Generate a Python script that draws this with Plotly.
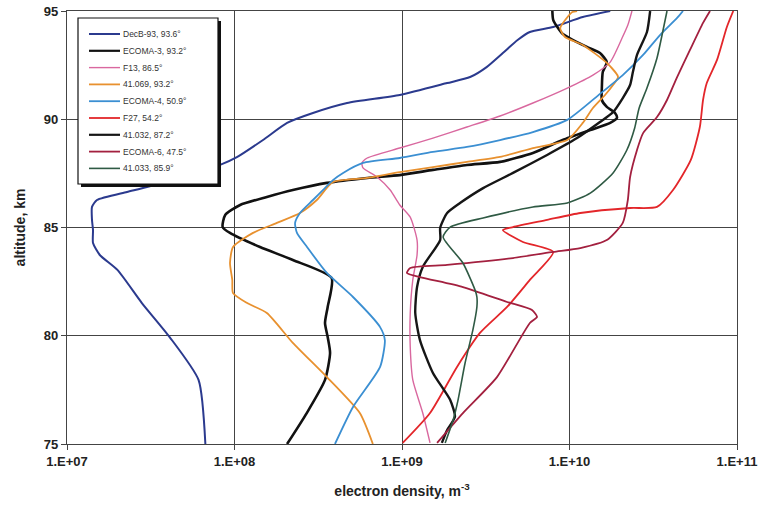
import plotly.graph_objects as go

# ---- data (density m^-3, altitude km) ----
decb_n = [6.7e7, 6.1e7, 4.1e7, 2.8e7, 2.0e7, 1.57e7, 1.43e7, 1.43e7, 1.41e7, 1.41e7, 1.51e7, 2.28e7, 3.0e7,
          8.2e7, 1.04e8, 1.48e8, 2.06e8, 2.94e8, 4.7e8, 9.7e8, 1.86e9, 2.55e9, 3.2e9, 4.0e9, 4.9e9, 5.8e9,
          8.0e9, 1.2e10, 1.75e10]
decb_z = [75.0, 77.96, 79.94, 81.51, 83.04, 83.73, 84.28, 84.88, 85.35, 85.95, 86.27, 86.64, 86.87,
          87.89, 88.26, 89.04, 89.83, 90.29, 90.75, 91.12, 91.67, 91.95, 92.41, 93.06, 93.66, 94.03,
          94.26, 94.72, 95.0]

ecoma3_n = [2.06e8, 2.7e8, 3.47e8, 3.72e8, 3.6e8, 3.47e8, 3.6e8, 3.8e8, 2.23e8, 1.42e8, 9.4e7, 8.5e7, 8.8e7,
            1.08e8, 1.56e8, 2.23e8, 3.56e8, 6.2e8, 9.7e8, 1.53e9, 2.44e9, 3.85e9, 6.05e9, 9.1e9, 1.33e10,
            1.75e10, 1.92e10, 1.87e10, 1.67e10, 1.56e10, 1.56e10, 1.58e10, 1.67e10, 1.52e10, 1.27e10, 1.0e10,
            9.0e9, 8.0e9, 7.9e9]
ecoma3_z = [75.0, 76.43, 77.96, 79.2, 79.94, 80.59, 81.33, 82.67, 83.5, 84.1, 84.75, 85.02, 85.58,
            86.04, 86.41, 86.73, 87.06, 87.29, 87.42, 87.66, 87.89, 88.03, 88.44, 89.04, 89.5,
            89.83, 90.06, 90.29, 90.57, 90.89, 91.44, 92.18, 92.64, 93.06, 93.34, 93.75,
            93.98, 94.58, 95.0]

f13_n = [1.47e9, 1.33e9, 1.16e9, 1.12e9, 1.12e9, 1.16e9, 1.23e9, 1.23e9, 1.12e9, 9.7e8, 8.5e8, 7.1e8, 5.85e8,
         5.77e8, 6.2e8, 9.7e8, 1.53e9, 2.44e9, 3.85e9, 6.05e9, 9.7e9, 1.38e10, 1.75e10, 2.06e10, 2.23e10, 2.36e10]
f13_z = [75.05, 76.43, 77.96, 79.48, 81.05, 82.58, 83.73, 84.42, 85.48, 86.04, 86.73, 87.33, 87.75,
         87.98, 88.21, 88.67, 89.13, 89.64, 90.15, 90.75, 91.44, 92.04, 92.64, 93.75, 94.35, 95.0]

s41069_n = [6.7e8, 5.6e8, 3.56e8, 2.23e8, 1.56e8, 1.19e8, 9.8e7, 9.7e7, 9.4e7, 9.8e7, 1.29e8, 1.79e8, 2.46e8,
            3.1e8, 3.87e8, 6.2e8, 9.7e8, 1.53e9, 2.44e9, 3.85e9, 6.05e9, 9.7e9, 1.2e10, 1.38e10, 1.63e10,
            1.82e10, 1.95e10, 1.67e10, 1.2e10, 9.4e9, 8.8e9, 1.04e10, 1.11e10]
s41069_z = [75.0, 76.43, 78.09, 79.67, 81.05, 81.51, 81.97, 82.58, 83.36, 84.1, 84.75, 85.21, 85.67,
            86.27, 87.1, 87.29, 87.56, 87.79, 88.03, 88.26, 88.67, 89.04, 89.83, 90.52, 91.12,
            91.58, 91.95, 92.6, 93.43, 93.8, 94.21, 94.95, 95.0]

ecoma4_n = [3.98e8, 5.1e8, 7.4e8, 7.9e8, 7.4e8, 5.1e8, 3.56e8, 2.71e8, 2.36e8, 2.3e8, 2.46e8, 2.94e8, 3.37e8,
            3.87e8, 4.45e8, 5.85e8, 9.7e8, 1.53e9, 2.44e9, 3.85e9, 6.05e9, 9.7e9, 1.52e10, 2.08e10, 2.75e10,
            3.47e10, 4.39e10, 4.76e10]
ecoma4_z = [75.0, 76.71, 78.56, 79.8, 80.4, 81.79, 82.9, 84.1, 84.75, 85.21, 85.67, 86.27, 86.73,
            87.19, 87.52, 87.98, 88.21, 88.49, 88.72, 89.04, 89.41, 89.97, 91.17, 92.04, 92.97,
            93.89, 94.68, 95.0]

f27_n = [1.01e9, 1.47e9, 2.13e9, 2.92e9, 4.24e9, 5.8e9, 8.0e9, 5.27e9, 4.0e9, 4.6e9, 7.35e9, 1.16e10, 2.3e10,
         3.33e10, 4.15e10, 5.3e10, 6.0e10, 6.27e10, 6.6e10, 7.6e10, 8.7e10, 9.5e10]
f27_z = [75.05, 76.43, 78.56, 80.13, 81.33, 82.58, 83.87, 84.33, 84.88, 85.02, 85.35, 85.67, 85.9,
         85.95, 86.73, 88.12, 89.64, 90.89, 91.67, 92.74, 94.26, 95.0]

s41032_n = [1.73e9, 1.86e9, 2.07e9, 1.94e9, 1.53e9, 1.28e9, 1.2e9, 1.23e9, 1.33e9, 1.69e9, 1.69e9, 1.86e9,
            2.22e9, 3.05e9, 4.6e9, 7.35e9, 1.11e10, 1.52e10, 1.82e10, 2.08e10, 2.3e10, 2.39e10, 2.53e10,
            2.9e10, 3.03e10]
s41032_z = [75.05, 75.65, 76.25, 77.03, 78.28, 79.8, 81.05, 82.25, 83.18, 84.42, 84.98, 85.67,
            86.13, 86.82, 87.52, 88.35, 89.13, 89.87, 90.33, 90.98, 91.58, 92.18, 92.97,
            94.03, 95.0]

ecoma6_n = [1.62e9, 2.31e9, 3.69e9, 5.8e9, 6.4e9, 5.97e9, 4.24e9, 2.31e9, 1.28e9, 1.07e9, 1.12e9, 1.86e9,
            4.6e9, 8.0e9, 1.16e10, 1.67e10, 2.08e10, 2.23e10, 2.3e10, 2.53e10, 2.75e10, 3.33e10, 3.82e10,
            4.39e10, 5.24e10, 6.27e10, 6.9e10]
ecoma6_z = [75.05, 76.43, 78.09, 80.59, 80.87, 81.19, 81.56, 82.25, 82.71, 82.9, 83.13, 83.27,
            83.59, 83.87, 84.05, 84.42, 85.21, 86.27, 87.33, 88.58, 89.36, 90.1, 90.89,
            91.95, 93.2, 94.45, 95.0]

s41033_n = [1.81e9, 2.02e9, 2.16e9, 2.38e9, 2.65e9, 2.8e9, 2.8e9, 2.73e9, 2.31e9, 1.76e9, 1.94e9, 3.05e9,
            6.05e9, 9.7e9, 1.33e10, 1.82e10, 2.2e10, 2.45e10, 2.6e10, 2.9e10, 3.33e10, 3.6e10, 3.82e10]
s41033_z = [75.05, 76.11, 77.03, 78.74, 80.27, 81.33, 81.79, 82.11, 83.36, 84.56, 85.02, 85.44,
            85.95, 86.13, 86.59, 87.52, 88.58, 89.6, 90.5, 91.44, 92.83, 94.03, 95.0]

names = ["DecB-93, 93.6°", "ECOMA-3, 93.2°", "F13, 86.5°", "41.069, 93.2°", "ECOMA-4, 50.9°",
         "F27, 54.2°", "41.032, 87.2°", "ECOMA-6, 47.5°", "41.033, 85.9°"]

x_tickvals = [1e7, 1e8, 1e9, 1e10, 1e11]
x_ticktext = ["1.E+07", "1.E+08", "1.E+09", "1.E+10", "1.E+11"]
y_tickvals = [75, 80, 85, 90, 95]

series = [
    (decb_n, decb_z, "#2b3a8e", 2.0),
    (ecoma3_n, ecoma3_z, "#111111", 2.6),
    (f13_n, f13_z, "#d9689f", 1.4),
    (s41069_n, s41069_z, "#e8912f", 1.8),
    (ecoma4_n, ecoma4_z, "#3b8fd2", 1.8),
    (f27_n, f27_z, "#e3262a", 1.8),
    (s41032_n, s41032_z, "#161616", 2.4),
    (ecoma6_n, ecoma6_z, "#a3203f", 1.8),
    (s41033_n, s41033_z, "#2f5a44", 1.6),
]

W, H = 763, 507
ML, MR, MT, MB = 67, 26, 11, 63
PW, PH = W - ML - MR, H - MT - MB


def px(x):
    return (x - ML) / PW


def py(y):
    return (H - MB - y) / PH


fig = go.Figure()
for (n, z, c, w), name in zip(series, names):
    fig.add_trace(go.Scatter(x=n, y=z, mode="lines", name=name, showlegend=False,
                             line=dict(color=c, width=w, shape="spline", smoothing=0.6)))

font_family = "Liberation Sans, Arial, sans-serif"

# ---- hand-made legend box (compact spacing like the original) ----
shapes = []
annotations = []
bx0, by0, bx1, by1 = 78, 18, 218, 184
shapes.append(dict(type="rect", xref="paper", yref="paper", layer="above",
                   x0=px(bx0 + 3), x1=px(bx1 + 3), y0=py(by1 + 3), y1=py(by0 + 3),
                   fillcolor="#111", line=dict(width=0)))
shapes.append(dict(type="rect", xref="paper", yref="paper", layer="above",
                   x0=px(bx0), x1=px(bx1), y0=py(by1), y1=py(by0),
                   fillcolor="white", line=dict(color="#111", width=1.2)))
for i, ((n, z, c, w), name) in enumerate(zip(series, names)):
    yy = 34 + 16.8 * i
    shapes.append(dict(type="line", xref="paper", yref="paper", layer="above",
                       x0=px(89), x1=px(120), y0=py(yy), y1=py(yy),
                       line=dict(color=c, width=min(w, 2.2))))
    annotations.append(dict(xref="paper", yref="paper", x=px(121), y=py(yy),
                            xanchor="left", yanchor="middle", showarrow=False,
                            text=name, font=dict(size=8.5, color="#333", family=font_family)))

fig.update_layout(
    width=W, height=H,
    margin=dict(l=ML, r=MR, t=MT, b=MB, autoexpand=False),
    paper_bgcolor="white", plot_bgcolor="white",
    font=dict(family=font_family, color="#222"),
    showlegend=False,
    shapes=shapes, annotations=annotations,
    xaxis=dict(type="log", range=[7, 11], tickvals=x_tickvals, ticktext=x_ticktext,
               showgrid=True, gridcolor="#444", gridwidth=1.3,
               showline=True, linecolor="#444", linewidth=1.3, mirror=True,
               ticks="outside", ticklen=5, tickcolor="#444",
               tickfont=dict(size=13, family=font_family, color="#222", weight="bold"),
               title=dict(text="electron density, m<sup>-3</sup>",
                          font=dict(size=14, weight="bold"), standoff=18),
               zeroline=False, automargin=False),
    yaxis=dict(range=[75, 95], tickvals=y_tickvals,
               showgrid=True, gridcolor="#444", gridwidth=1.3,
               showline=True, linecolor="#444", linewidth=1.3, mirror=True,
               ticks="outside", ticklen=5, tickcolor="#444",
               tickfont=dict(size=13, family=font_family, color="#222", weight="bold"),
               title=dict(text="altitude, km", font=dict(size=14, weight="bold"), standoff=14),
               zeroline=False, automargin=False),
)

fig.write_html("out.html", config={"displayModeBar": False},
               post_script="document.body.style.margin='0';document.body.style.padding='0';")
